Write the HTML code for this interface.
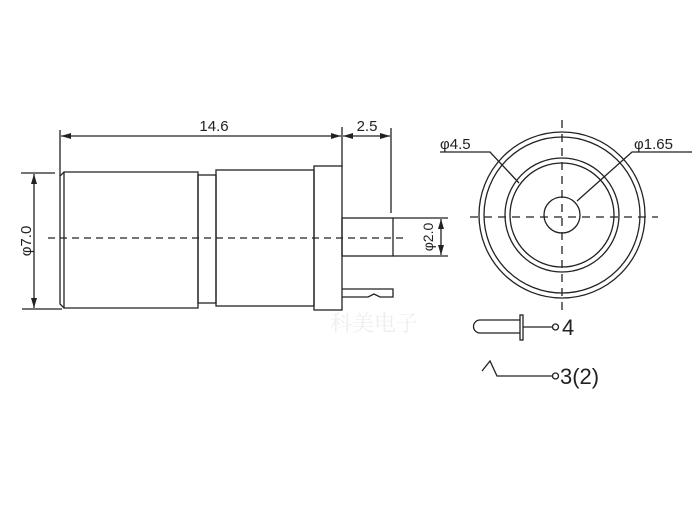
<!DOCTYPE html>
<html><head><style>body{margin:0;background:#fff}svg{display:block}</style></head><body>
<svg width="700" height="521" viewBox="0 0 700 521" xmlns="http://www.w3.org/2000/svg" font-family="Liberation Sans, sans-serif">
<defs><marker id="a" viewBox="0 0 10 6" refX="10" refY="3" markerWidth="10" markerHeight="6" orient="auto-start-reverse" markerUnits="userSpaceOnUse"><path d="M0,0L10,3L0,6z" fill="#222"/></marker></defs>
<g stroke="#222" stroke-width="1.3" fill="none">
<!-- dims -->
<line x1="60" y1="130" x2="60" y2="176"/>
<line x1="342" y1="127" x2="342" y2="167"/>
<line x1="391" y1="128" x2="391" y2="213"/>
<line x1="61" y1="136" x2="341" y2="136" marker-start="url(#a)" marker-end="url(#a)"/>
<line x1="343" y1="136" x2="390" y2="136" marker-start="url(#a)" marker-end="url(#a)"/>
<line x1="21" y1="173" x2="55" y2="173"/>
<line x1="22" y1="309" x2="62" y2="309"/>
<line x1="34" y1="174" x2="34" y2="308" marker-start="url(#a)" marker-end="url(#a)"/>
<!-- body -->
<path d="M64,172 H198 V308 H64 L60,304 V176 Z"/>
<line x1="64" y1="172" x2="64" y2="308"/>
<rect x="198" y="175" width="18" height="128"/>
<rect x="216" y="170" width="98" height="136"/>
<rect x="314" y="166" width="28" height="144"/>
<rect x="342" y="218" width="51" height="38"/>
<line x1="393" y1="218" x2="448" y2="218"/>
<line x1="393" y1="256" x2="448" y2="256"/>
<line x1="441" y1="219" x2="441" y2="255" marker-start="url(#a)" marker-end="url(#a)"/>
<path d="M342,289 H393 V297 H380 L374,294 L368,297 H342"/>
<line x1="48" y1="238" x2="405" y2="238" stroke-dasharray="7,5"/>
<!-- right view -->
<circle cx="562" cy="215" r="83"/>
<circle cx="562" cy="215" r="78"/>
<circle cx="562" cy="215" r="57"/>
<circle cx="562" cy="215" r="52"/>
<circle cx="562" cy="215" r="18"/>
<line x1="470" y1="217" x2="658" y2="217" stroke-dasharray="8,6"/>
<line x1="562" y1="120" x2="562" y2="312" stroke-dasharray="8,6"/>
<path d="M440,152 H490 L519,183"/>
<path d="M692,152 H632 L577,201"/>
<!-- symbols -->
<path d="M520,320 H480 A6.5,6.5 0 0 0 480,333 H520"/>
<rect x="520" y="315" width="3" height="25"/>
<line x1="523" y1="327" x2="552" y2="327"/>
<circle cx="555.5" cy="327" r="3"/>
<path d="M482,371 L490,361 L497,376 H552"/>
<circle cx="555.5" cy="376" r="3"/>
</g>
<g fill="#222">
<text x="214" y="131" font-size="15" text-anchor="middle">14.6</text>
<text x="367" y="131" font-size="15" text-anchor="middle">2.5</text>
<text transform="translate(31,241) rotate(-90)" font-size="15" text-anchor="middle">φ7.0</text>
<text transform="translate(433,237) rotate(-90)" font-size="14" text-anchor="middle">φ2.0</text>
<text x="440" y="149" font-size="15">φ4.5</text>
<text x="634" y="149" font-size="15">φ1.65</text>
<text x="562" y="335" font-size="22">4</text>
<text x="560" y="384" font-size="22">3(2)</text>
</g>
<text x="330" y="331" font-size="22" fill="#eee" font-family="Liberation Serif, Noto Serif CJK SC, serif">科美电子</text>
</svg>
</body></html>
